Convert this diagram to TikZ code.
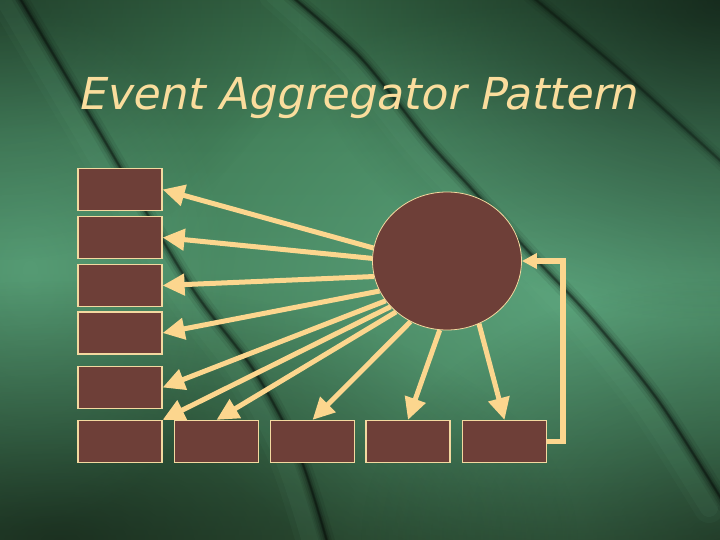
\documentclass[tikz,border=0pt]{standalone}
\usepackage{fontspec}
\newfontfamily\titlefont[FakeSlant=0.21]{DejaVu Sans}
\usetikzlibrary{arrows.meta,shapes.geometric,fadings}

\definecolor{boxfill}{HTML}{6E3F38}
\definecolor{boxline}{HTML}{F3D9A0}
\definecolor{arrowc}{HTML}{FCD68E}
\definecolor{titlec}{HTML}{FADD9D}
\definecolor{b0}{HTML}{1C2A18}
\definecolor{b1}{HTML}{263C25}
\definecolor{b2}{HTML}{3C704D}
\definecolor{b3}{HTML}{488660}
\definecolor{b4}{HTML}{43805A}
\definecolor{b5}{HTML}{2C5639}
\definecolor{b6}{HTML}{1A3020}
\definecolor{hlc}{HTML}{66B48C}
\definecolor{streakhl}{HTML}{7CC79C}

\pgfdeclareverticalshading{bgvert}{100bp}{color(0bp)=(b0); color(12bp)=(b1); color(35bp)=(b2); color(50bp)=(b3); color(62bp)=(b4); color(80bp)=(b5); color(100bp)=(b6)}
\tikzfading[name=glowfade, inner color=transparent!0, outer color=transparent!100]

\tikzset{
  box/.style={draw=boxline, fill=boxfill, line width=1.2pt, minimum width=84pt, minimum height=42pt, inner sep=0pt},
  hub/.style={ellipse, draw=boxline, fill=boxfill, line width=0.8pt, minimum width=149pt, minimum height=138pt, inner sep=0pt},
  link/.style={draw=arrowc, line width=5pt, -{Triangle[length=22pt,width=21pt]}},
  back/.style={draw=arrowc, line width=5.5pt, -{Triangle[length=15pt,width=15pt]}},
  titlestyle/.style={text=titlec, inner sep=0pt, font=\titlefont\fontsize{44}{50}\selectfont},
  streakline/.style={line cap=round, line join=round}
}

\begin{document}
\begin{tikzpicture}[x=1pt,y=-1pt]
\useasboundingbox (0,0) rectangle (720,540);
% background
\shade[shading=bgvert] (0,0) rectangle (720,540);
\begin{scope}
\clip (0,0) rectangle (720,540);
\fill[hlc, opacity=0.6, path fading=glowfade] (560,300) ellipse (420 and 300);
\fill[hlc, opacity=0.45, path fading=glowfade] (30,270) ellipse (200 and 260);
\fill[black, opacity=0.55, path fading=glowfade] (720,0) ellipse (420 and 320);
\fill[black, opacity=0.45, path fading=glowfade] (60,540) ellipse (520 and 260);
\fill[black, opacity=0.35, path fading=glowfade] (720,540) ellipse (360 and 260);
\fill[black, opacity=0.3, path fading=glowfade] (0,0) ellipse (300 and 260);
% light sides of the folds
\foreach \w/\o in {30/0.04, 18/0.05} {
\draw[streakhl, opacity=\o, line width=\w pt, streakline] plot[smooth] coordinates {(2,-5) (84,135) (174,287) (239,374) (284,459) (312,545)};
\draw[streakhl, opacity=\o, line width=\w pt, streakline] plot[smooth] coordinates {(274,-5) (344,60) (411,143) (454,190) (514,256) (577,323) (644,406) (709,508)};
}
% dark folds
\foreach \w/\o in {16/0.07, 10/0.1, 6/0.15, 3/0.22, 1.5/0.25} {
  \draw[black, opacity=\o, line width=\w pt, streakline] plot[smooth] coordinates {(18,-5) (100,133) (190,285) (255,372) (300,457) (328,545)};
  \draw[black, opacity=\o, line width=\w pt, streakline] plot[smooth] coordinates {(290,-5) (360,57) (427,140) (470,187) (530,253) (593,320) (660,403) (725,505)};
  \draw[black, opacity=0.7*\o, line width=\w pt, streakline] plot[smooth] coordinates {(530,-5) (620,70) (725,165)};
}
\end{scope}

% title
\node[titlestyle, anchor=base west] (ttl) at (77,110) {Event Aggregator Pattern};

% nodes
\node[box] (b1) at (120,189.5) {};
\node[box] (b2) at (120,237.5) {};
\node[box] (b3) at (120,285.5) {};
\node[box] (b4) at (120,333) {};
\node[box] (b5) at (120,387.5) {};
\node[box] (b6) at (120,441.5) {};
\node[box] (c2) at (216.5,441.5) {};
\node[box] (c3) at (312.5,441.5) {};
\node[box] (c4) at (408,441.5) {};
\node[box] (c5) at (504.5,441.5) {};
\node[hub] (hub) at (447,261) {};

% connectors
\draw[link] (hub.170) -- (b1.east);
\draw[link] (hub.178) -- (b2.east);
\draw[link] (hub.192) -- (b3.east);
\draw[link] (hub.204) -- (b4.east);
\draw[link] (hub.213) -- (b5.east);
\draw[link] (hub.219) -- (b6.north east);
\draw[link] (hub.225) -- (c2.north);
\draw[link] (hub.239) -- (c3.north);
\draw[link] (hub.264) -- (c4.north);
\draw[link] (hub.297) -- (c5.north);
\draw[back] (c5.east) -- ++(16,0) |- (hub.east);
\end{tikzpicture}
\end{document}
